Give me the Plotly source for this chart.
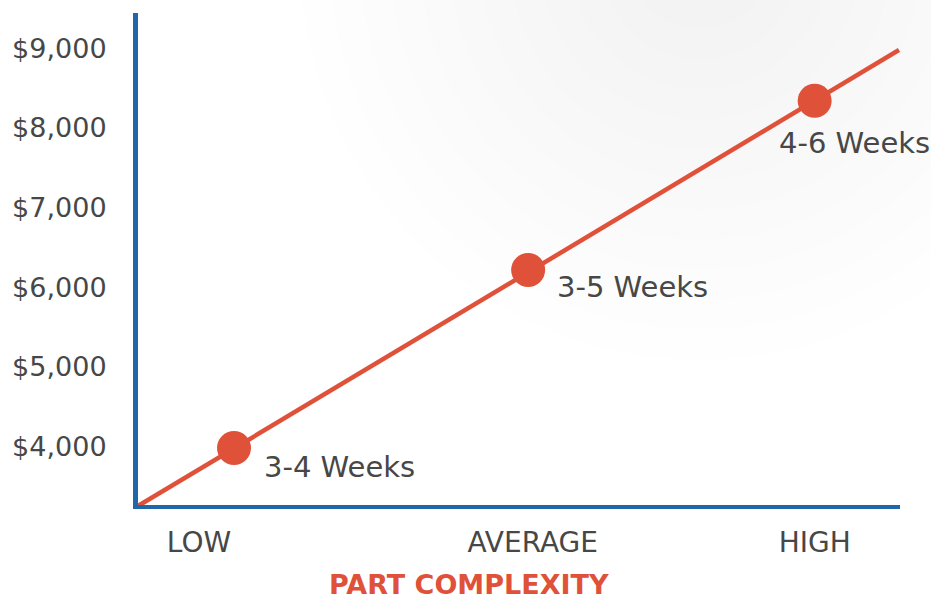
import plotly.graph_objects as go

# ---- data ----
complexity_labels = ["LOW", "AVERAGE", "HIGH"]
complexity_tick_pos = [0.080, 0.518, 0.888]
point_pos = [0.126, 0.512, 0.888]
point_cost = [3981, 6215, 8339]
point_lead = ["3-4 Weeks", "3-5 Weeks", "4-6 Weeks"]
trend_pos = [-0.0066, 0.9987]
trend_cost = [3215, 8975]
cost_ticks = [4000, 5000, 6000, 7000, 8000, 9000]
cost_tick_text = ["$4,000", "$5,000", "$6,000", "$7,000", "$8,000", "$9,000"]

RED = "#e0513a"
BLUE = "#1f67a8"
GREY = "#474747"
FONT = "DejaVu Sans"

L, R, T, B = 138, 900, 13, 505
PW, PH = R - L, B - T

fig = go.Figure()

# faint radial glow at top right (background decoration)
cx, cy = 700, -40
for r in range(400, 40, -30):
    fig.add_shape(type="circle", xref="paper", yref="paper",
                  x0=(cx - L - r) / PW, x1=(cx - L + r) / PW,
                  y0=(B - cy - r) / PH, y1=(B - cy + r) / PH,
                  fillcolor="rgba(0,0,0,0.003)", line=dict(width=0), layer="below")

fig.add_trace(go.Scatter(x=trend_pos, y=trend_cost, mode="lines",
                         line=dict(color=RED, width=4.5), hoverinfo="skip",
                         showlegend=False, cliponaxis=False))
fig.add_trace(go.Scatter(x=point_pos, y=point_cost, mode="markers",
                         marker=dict(color=RED, size=34, line=dict(width=0)),
                         showlegend=False, cliponaxis=False))

shifts = [(28, -19), (27, -17), (-38, -42)]
for x, y, t, (dx, dy) in zip(point_pos, point_cost, point_lead, shifts):
    fig.add_annotation(x=x, y=y, text=t, showarrow=False, xanchor="left",
                       yanchor="middle", xshift=dx, yshift=dy,
                       font=dict(family=FONT, size=29, color=GREY))

fig.add_annotation(xref="paper", yref="paper", x=(469 - L) / PW, y=(B - 584) / PH,
                   text="<b>PART COMPLEXITY</b>", showarrow=False,
                   xanchor="center", yanchor="middle", borderpad=0,
                   font=dict(family=FONT, size=27, color=RED))

fig.update_layout(
    width=931, height=600,
    margin=dict(l=L, r=931 - R, t=T, b=600 - B, autoexpand=False),
    plot_bgcolor="rgba(0,0,0,0)", paper_bgcolor="white",
    font=dict(family=FONT, color=GREY),
    xaxis=dict(range=[0, 1], showgrid=False, zeroline=False, automargin=False,
               showline=True, linecolor=BLUE, linewidth=4,
               tickvals=complexity_tick_pos, ticktext=complexity_labels,
               ticks="outside", ticklen=9, tickcolor="rgba(0,0,0,0)",
               tickfont=dict(family=FONT, size=28, color=GREY)),
    yaxis=dict(range=[3265, 9440], showgrid=False, zeroline=False, automargin=False,
               showline=True, linecolor=BLUE, linewidth=5,
               tickvals=cost_ticks, ticktext=cost_tick_text,
               ticks="outside", ticklen=21, tickcolor="rgba(0,0,0,0)",
               tickfont=dict(family=FONT, size=27, color=GREY)),
)

fig.write_html("out.html", config={"displayModeBar": False},
               post_script="document.body.style.margin='0';")
